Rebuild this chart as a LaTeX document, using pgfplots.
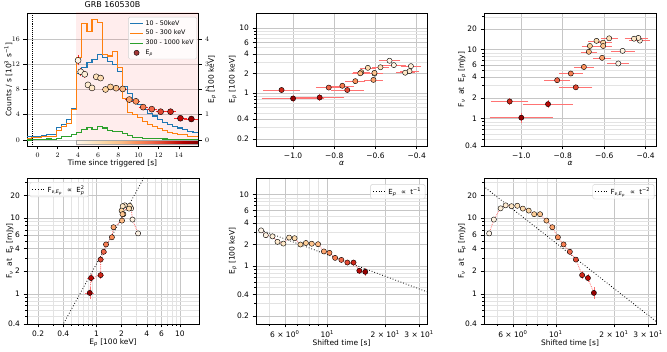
\documentclass[border=0pt]{standalone}
\usepackage{pgfplots}
\pgfplotsset{compat=1.18}
\usepackage{pgfplotstable}
\usepackage{fontspec}
\setmainfont{DejaVu Sans}

\newcommand{\fs}{\fontsize{7.5}{9}\selectfont}
\newcommand{\tfs}{\fontsize{8}{9.5}\selectfont}
\newcommand{\lfs}{\fontsize{6.3}{7.6}\selectfont}
\newcommand{\bfs}{\fontsize{7}{8.4}\selectfont}
\newcommand{\sub}[1]{\textsubscript{\textit{#1}}}
\newcommand{\fnuep}{F$_{\mbox{\fontsize{5}{5.5}\selectfont\textit{ν},\textit{E}$_{\mbox{\fontsize{3.8}{4}\selectfont\textit{p}}}$}}$}
\newcommand{\eptwo}{E$_{\mbox{\fontsize{5}{5.5}\selectfont\textit{p}}}^{\mbox{\fontsize{5}{5.5}\selectfont 2}}$}

\definecolor{tabblue}{HTML}{1F77B4}
\definecolor{taborange}{HTML}{FF7F0E}
\definecolor{tabgreen}{HTML}{2CA02C}
\definecolor{epred}{HTML}{8E0A0A}

\pgfplotsset{
  colormap={orrd}{rgb255=(255,247,236) rgb255=(254,232,200) rgb255=(253,212,158)
    rgb255=(253,187,132) rgb255=(252,141,89) rgb255=(239,101,72) rgb255=(215,48,31)
    rgb255=(179,0,0) rgb255=(127,0,0)},
  mpl/.style={scale only axis, anchor=south west, tick align=outside, tick pos=left,
    major tick length=3.5pt, minor tick length=2pt,
    tick style={black, line width=0.5pt},
    axis line style={line width=0.6pt},
    major grid style={gray!45, line width=0.5pt},
    minor grid style={gray!22, line width=0.4pt},
    tick label style={font=\fs}, label style={font=\fs},
    every axis title shift=0pt,
    title style={font=\tfs, at={(0.5,1.06)}, anchor=center, yshift=0pt},
    legend style={font=\lfs, draw=gray!35, rounded corners=1.5pt, fill=white,
      fill opacity=0.8, text opacity=1, inner sep=1.2pt, row sep=-0.5pt},
    legend cell align=left,
    legend image code/.code={\draw[##1] (0pt,0pt) -- (13pt,0pt);},
    colormap name=orrd, point meta min=3.83, point meta max=15.9},
  ylab/.style={every axis y label/.style={at={(axis description cs:#1,0.5)}, rotate=90, anchor=center, font=\fs}},
  xlab/.style={every axis x label/.style={at={(axis description cs:0.5,#1)}, anchor=center, font=\fs}},
  markleg/.style={legend image code/.code={\draw[mark repeat=2, mark phase=2, ##1]
    plot coordinates {(0pt,0pt) (6.5pt,0pt) (13pt,0pt)};}},
  ebar/.style={only marks, mark=none, forget plot,
    error bars/.cd, x dir=both, x explicit, y dir=both, y explicit,
    error bar style={#1, line width=0.5pt},
    error mark options={#1, mark size=1.1pt, line width=0.5pt}},
  pts/.style={scatter, only marks, mark=*, mark size=#1, forget plot,
    point meta=\thisrow{t},
    scatter/use mapped color={draw=black, fill=mapped color, line width=0.4pt}},
  link/.style={red!55, densely dotted, line width=0.8pt, forget plot},
  bleg/.style={legend style={font=\bfs, at={#1}, inner xsep=2pt}},
}

% light curves, bins of 0.5 s (start of bin), counts in 10^3 /s
\pgfplotstableread{
t     lo     mid    hi
-1.1  0.5    0.30   0.00
-0.6  0.55   0.35   0.05
-0.1  0.6    0.45   0.10
0.4   0.7    0.5    0.10
0.9   0.9    0.6    0.15
1.4   0.8    0.6    0.10
1.9   2.0    1.5    0.30
2.4   2.4    2.2    0.50
2.9   3.3    2.6    0.50
3.4   5.0    4.8    0.90
3.9   10.5   13.0   1.20
4.4   11.5   18.5   1.60
4.9   12.3   17.2   2.00
5.4   12.8   19.0   1.70
5.9   13.6   18.6   2.10
6.4   13.0   13.6   1.90
6.9   12.4   13.3   1.50
7.4   12.0   14.0   1.30
7.9   10.8   11.5   1.40
8.4   8.5    6.5    1.00
8.9   7.4    4.3    0.70
9.4   6.2    4.0    0.40
9.9   5.6    3.5    0.40
10.4  4.8    2.9    0.30
10.9  4.2    2.5    0.25
11.4  3.8    2.2    0.20
11.9  3.3    1.8    0.20
12.4  2.8    1.5    0.15
12.9  2.4    1.2    0.10
13.4  2.1    1.0    0.10
13.9  1.9    0.9    0.10
14.4  1.6    0.8    0.05
14.9  1.4    0.6    0.05
15.4  1.2    0.5    0.00
15.9  1.2    0.5    0.00
}\lc

% time-resolved spectral fits
\pgfplotstableread{
t      dt    ts     ep    epe   al      ale    fv     fve
4.02   0.13  4.52   3.15  0.15  -0.532  0.047  6.3    0.30
4.28   0.13  4.78   2.70  0.12  -0.511  0.052  9.6    0.40
4.68   0.20  5.18   2.60  0.10  -0.428  0.045  13.5   0.50
5.00   0.13  5.50   2.18  0.08  -0.435  0.040  14.8   0.50
5.40   0.20  5.90   2.06  0.08  -0.456  0.040  14.4   0.50
5.82   0.20  6.32   2.50  0.08  -0.576  0.035  14.6   0.50
6.25   0.20  6.75   2.45  0.08  -0.637  0.035  13.4   0.50
6.74   0.25  7.24   2.00  0.07  -0.605  0.035  12.6   0.50
7.23   0.25  7.73   2.10  0.07  -0.669  0.035  11.3   0.40
7.79   0.30  8.29   2.05  0.07  -0.605  0.035  11.3   0.40
8.44   0.30  8.94   2.02  0.07  -0.674  0.035  9.3    0.40
9.09   0.30  9.59   1.60  0.06  -0.610  0.039  7.6    0.30
9.75   0.30  10.25  1.53  0.06  -0.698  0.043  5.6    0.25
10.47  0.35  10.97  1.30  0.06  -0.761  0.052  4.5    0.20
11.32  0.40  11.82  1.22  0.06  -0.827  0.057  3.6    0.20
12.20  0.40  12.70  1.12  0.06  -0.737  0.075  2.84   0.15
13.18  0.45  13.68  1.12  0.07  -1.056  0.085  1.77   0.15
14.16  0.55  14.66  0.86  0.06  -0.871  0.115  1.62   0.15
15.24  0.60  15.74  0.83  0.07  -1.000  0.147  1.03   0.15
}\grb

\begin{document}
\begin{tikzpicture}
\useasboundingbox (0,0) rectangle (667pt,352pt);

% ---------- top left: light curves and Ep
\begin{axis}[mpl, at={(27pt,206pt)}, width=171pt, height=133pt,
  xmin=-1.04, xmax=15.9, ymin=-0.95, ymax=20.1,
  xtick={0,2,...,14}, ytick={0,4,8,12,16}, ymajorgrids,
  ylab=-0.109, xlab=-0.128,
  xlabel={Time since triggered [s]},
  ylabel={Counts / s [10\textsuperscript{3} s\textsuperscript{−1}]},
  title={GRB 160530B}]
\addplot[draw=none, fill=red, fill opacity=0.07, forget plot]
  coordinates {(3.83,-2) (16,-2) (16,22) (3.83,22)} --cycle;
\addplot[black, densely dotted, line width=0.9pt, forget plot] coordinates {(-0.5,-2) (-0.5,22)};
\addplot[const plot, tabblue, line width=1.1pt, forget plot] table[x=t, y=lo]{\lc};
\addplot[const plot, taborange, line width=1.1pt, forget plot] table[x=t, y=mid]{\lc};
\addplot[const plot, tabgreen, line width=1.1pt, forget plot] table[x=t, y=hi]{\lc};
\addplot[surf, shader=interp, mesh/rows=2, point meta=explicit, forget plot] coordinates {
  (3.83,-0.65) [3.83] (5.339,-0.65) [5.339] (6.848,-0.65) [6.848] (8.356,-0.65) [8.356]
  (9.865,-0.65) [9.865] (11.374,-0.65) [11.374] (12.883,-0.65) [12.883] (14.391,-0.65) [14.391]
  (15.9,-0.65) [15.9]
  (3.83,0) [3.83] (5.339,0) [5.339] (6.848,0) [6.848] (8.356,0) [8.356]
  (9.865,0) [9.865] (11.374,0) [11.374] (12.883,0) [12.883] (14.391,0) [14.391]
  (15.9,0) [15.9]
};
\addplot[gray!70, line width=0.6pt, forget plot]
  coordinates {(3.83,-0.65) (15.9,-0.65) (15.9,0) (3.83,0)} --cycle;
\end{axis}

\begin{axis}[mpl, at={(27pt,206pt)}, width=171pt, height=133pt,
  xmin=-1.04, xmax=15.9, ymin=-0.2375, ymax=5.025,
  axis x line=none, axis y line*=right, ytick pos=right, ytick={0,1,2,3,4},
  ylab=1.082,
  ylabel={E\sub{p} [100 keV]},
  legend style={at={(0.994,0.97)}, anchor=north east}]
\addlegendimage{tabblue, line width=1.1pt}\addlegendentry{10 - 50keV}
\addlegendimage{taborange, line width=1.1pt}\addlegendentry{50 - 300 keV}
\addlegendimage{tabgreen, line width=1.1pt}\addlegendentry{300 - 1000 keV}
\addlegendimage{markleg, only marks, mark=*, mark size=2.6pt,
  mark options={fill=epred, draw=black, line width=0.4pt}}\addlegendentry{E\sub{p}}
\addplot[ebar=red!85] table[x=t, y=ep, x error=dt, y error=epe]{\grb};
\addplot[pts=3pt] table[x=t, y=ep]{\grb};
\end{axis}

% ---------- top middle: Ep vs alpha
\begin{axis}[mpl, at={(256pt,206pt)}, width=171pt, height=133pt,
  xmin=-1.18, xmax=-0.35, ymode=log, ymin=0.155, ymax=17,
  xtick={-1,-0.8,-0.6,-0.4}, xticklabels={−1.0,−0.8,−0.6,−0.4},
  ytick={0.2,0.4,1,2,4,6,10}, yticklabels={0.2,0.4,1,2,4,6,10},
  minor ytick={0.3,0.5,0.6,0.7,0.8,0.9,3,5,7,8,9},
  ylab=-0.135, xlab=-0.128,
  grid=both, xlabel={\textit{α}}, ylabel={E\sub{p} [100 keV]}]
\addplot[ebar=red!55] table[x=al, y=ep, x error=ale, y error=epe]{\grb};
\addplot[pts=2.6pt] table[x=al, y=ep]{\grb};
\end{axis}

% ---------- top right: F_nu vs alpha
\begin{axis}[mpl, at={(484pt,206pt)}, width=172pt, height=133pt,
  xmin=-1.18, xmax=-0.35, ymode=log, ymin=0.4, ymax=34,
  xtick={-1,-0.8,-0.6,-0.4}, xticklabels={−1.0,−0.8,−0.6,−0.4},
  ytick={0.4,1,2,4,6,10,20}, yticklabels={0.4,1,2,4,6,10,20},
  minor ytick={0.5,0.6,0.7,0.8,0.9,3,5,7,8,9,30},
  ylab=-0.128, xlab=-0.128,
  grid=both, xlabel={\textit{α}}, ylabel={F\sub{ν}\ \ at\ \ E\sub{p} [mJy]}]
\addplot[ebar=red!55] table[x=al, y=fv, x error=ale, y error=fve]{\grb};
\addplot[pts=2.6pt] table[x=al, y=fv]{\grb};
\end{axis}

% ---------- bottom left: F_nu vs Ep
\begin{axis}[mpl, at={(27pt,28pt)}, width=172pt, height=146pt,
  xmode=log, xmin=0.147, xmax=16.9, ymode=log, ymin=0.4, ymax=34,
  xtick={0.2,0.4,1,2,4,6,10}, xticklabels={0.2,0.4,1,2,4,6,10},
  minor xtick={0.3,0.5,0.6,0.7,0.8,0.9,3,5,7,8,9},
  ytick={0.4,1,2,4,6,10,20}, yticklabels={0.4,1,2,4,6,10,20},
  minor ytick={0.5,0.6,0.7,0.8,0.9,3,5,7,8,9,30},
  ylab=-0.099, xlab=-0.13,
  grid=both, xlabel={E\sub{p} [100 keV]}, ylabel={F\sub{ν}\ \ at\ \ E\sub{p} [mJy]},
  bleg={(0.015,0.972)}, legend style={anchor=north west}]
\addplot[black, dotted, line width=0.8pt] coordinates {(0.3,0.225) (6,90)};
\addlegendentry{\fnuep\ \ ∝\ \ \eptwo}
\addplot[link] table[x=ep, y=fv]{\grb};
\addplot[ebar=red!55] table[x=ep, y=fv, x error=epe, y error=fve]{\grb};
\addplot[pts=2.6pt] table[x=ep, y=fv]{\grb};
\end{axis}

% ---------- bottom middle: Ep vs shifted time
\begin{axis}[mpl, at={(256pt,28pt)}, width=171pt, height=146pt,
  xmode=log, xmin=4.25, xmax=33, ymode=log, ymin=0.155, ymax=17,
  xtick={6,10,20,30},
  xticklabels={6 × 10\textsuperscript{0},10\textsuperscript{1},2 × 10\textsuperscript{1},3 × 10\textsuperscript{1}},
  minor xtick={5,7,8,9},
  ytick={0.2,0.4,1,2,4,6,10}, yticklabels={0.2,0.4,1,2,4,6,10},
  minor ytick={0.3,0.5,0.6,0.7,0.8,0.9,3,5,7,8,9},
  ylab=-0.135, xlab=-0.13,
  grid=both, xlabel={Shifted time [s]}, ylabel={E\sub{p} [100 keV]},
  bleg={(0.99,0.958)}, legend style={anchor=north east}]
\addplot[black, dotted, line width=0.8pt] coordinates {(4,3.6) (40,0.36)};
\addlegendentry{E\sub{p}\ \ ∝\ \ t\textsuperscript{−1}}
\addplot[link] table[x=ts, y=ep]{\grb};
\addplot[ebar=red!55] table[x=ts, y=ep, x error expr=0, y error=epe]{\grb};
\addplot[pts=2.6pt] table[x=ts, y=ep]{\grb};
\end{axis}

% ---------- bottom right: F_nu vs shifted time
\begin{axis}[mpl, at={(484pt,28pt)}, width=172pt, height=146pt,
  xmode=log, xmin=4.25, xmax=33, ymode=log, ymin=0.4, ymax=34,
  xtick={6,10,20,30},
  xticklabels={6 × 10\textsuperscript{0},10\textsuperscript{1},2 × 10\textsuperscript{1},3 × 10\textsuperscript{1}},
  minor xtick={5,7,8,9},
  ytick={0.4,1,2,4,6,10,20}, yticklabels={0.4,1,2,4,6,10,20},
  minor ytick={0.5,0.6,0.7,0.8,0.9,3,5,7,8,9,30},
  ylab=-0.128, xlab=-0.13,
  grid=both, xlabel={Shifted time [s]}, ylabel={F\sub{ν}\ \ at\ \ E\sub{p} [mJy]},
  bleg={(0.99,0.958)}, legend style={anchor=north east}]
\addplot[black, dotted, line width=0.8pt] coordinates {(4,29.5) (40,0.295)};
\addlegendentry{\fnuep\ \ ∝\ \ t\textsuperscript{−2}}
\addplot[link] table[x=ts, y=fv]{\grb};
\addplot[ebar=red!55] table[x=ts, y=fv, x error expr=0, y error=fve]{\grb};
\addplot[pts=2.6pt] table[x=ts, y=fv]{\grb};
\end{axis}
\end{tikzpicture}
\end{document}
